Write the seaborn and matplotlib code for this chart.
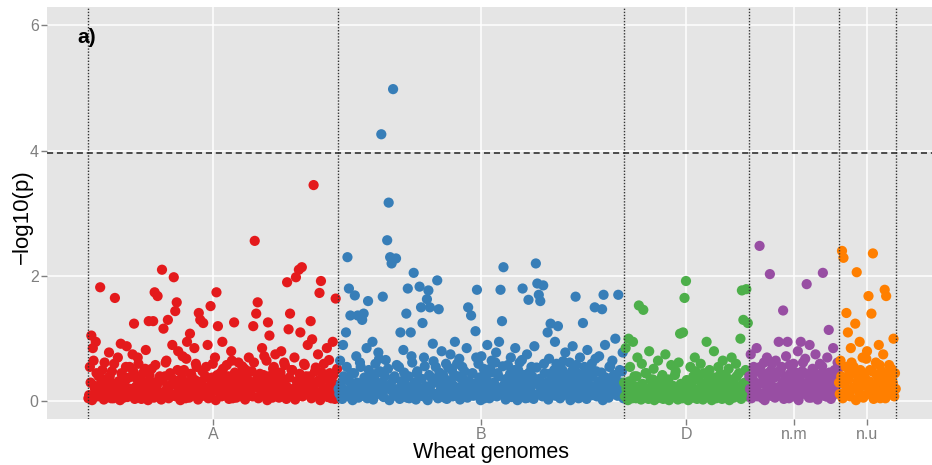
import matplotlib
matplotlib.use("Agg")
import matplotlib.pyplot as plt
import seaborn as sns
import pandas as pd

genomes = ["A", "B", "D", "n.m", "n.u"]
colors = ["#E41A1C", "#377EB8", "#4DAF4A", "#984EA3", "#FF7F00"]

# -log10(p) of markers in map order; two interleaved marker sets per genome
logp_A = [
    0.05, 0.55, 1.05, 0.85, 0.25, 0.95, 0.12, 0.40, 1.82, 0.30,
    0.18, 0.62, 0.08, 0.35, 0.78, 0.22, 0.48, 0.05, 1.65, 0.28,
    0.70, 0.15, 0.92, 0.42, 0.06, 0.33, 0.88, 0.20, 0.55, 0.10,
    0.75, 1.24, 0.38, 0.14, 0.60, 0.27, 0.04, 0.45, 0.18, 0.82,
    0.30, 1.28, 0.09, 0.52, 1.28, 1.74, 0.22, 1.68, 0.36, 0.12,
    2.10, 1.16, 0.40, 0.65, 1.30, 0.25, 0.08, 0.90, 1.98, 1.44,
    1.58, 0.80, 0.34, 0.15, 0.72, 0.50, 0.05, 0.95, 0.28, 1.08,
    0.42, 0.18, 0.85, 0.60, 0.10, 1.41, 1.30, 0.32, 1.25, 0.20,
    0.55, 0.90, 0.07, 1.52, 0.38, 0.26, 0.70, 1.74, 1.20, 0.15,
    0.46, 0.95, 0.30, 0.12, 0.58, 0.40, 0.22, 0.80, 0.05, 1.26,
    0.35, 0.18, 0.62, 0.44, 0.08, 0.28, 0.52, 0.15, 0.36, 0.70,
    0.24, 0.48, 1.20, 2.56, 1.40, 1.58, 0.30, 0.10, 0.85, 0.42,
    0.20, 0.65, 1.26, 1.05, 0.38, 0.06, 0.55, 0.75, 0.28, 0.45,
    0.16, 0.80, 0.35, 0.62, 0.25, 1.90, 1.15, 1.40, 0.50, 0.08,
    0.70, 1.98, 0.32, 2.10, 1.10, 2.14, 0.22, 0.58, 0.40, 0.90,
    0.15, 1.28, 0.99, 3.45, 0.48, 0.30, 0.75, 1.73, 1.92, 0.12,
    0.60, 0.36, 0.85, 0.20, 0.45, 0.05, 0.95, 0.28, 1.64, 0.52,
]
logp_A_2 = [
    0.10, 0.30, 0.02, 0.65, 0.20, 0.45, 0.08, 0.25, 0.15, 0.50,
    0.03, 0.35, 0.22, 0.12, 0.40, 0.05, 0.28, 0.60, 0.18, 0.09,
    0.32, 0.02, 0.45, 0.14, 0.26, 0.55, 0.07, 0.38, 0.20, 0.11,
    0.48, 0.04, 0.24, 0.70, 0.16, 0.36, 0.08, 0.28, 0.52, 0.13,
    0.02, 0.42, 0.19, 0.30, 0.06, 0.58, 0.25, 0.10, 0.40, 0.03,
    0.33, 0.15, 0.62, 0.22, 0.05, 0.45, 0.12, 0.35, 0.27, 0.08,
    0.50, 0.18, 0.02, 0.38, 0.24, 0.14, 0.68, 0.30, 0.06, 0.44,
    0.20, 0.10, 0.34, 0.55, 0.03, 0.26, 0.16, 0.48, 0.09, 0.40,
    0.22, 0.05, 0.36, 0.14, 0.60, 0.28, 0.02, 0.42, 0.18, 0.32,
    0.08, 0.52, 0.24, 0.12, 0.38, 0.04, 0.30, 0.65, 0.15, 0.46,
    0.06, 0.25, 0.40, 0.10, 0.56, 0.20, 0.03, 0.34, 0.48, 0.14,
    0.28, 0.08, 0.62, 0.22, 0.36, 0.05, 0.44, 0.16, 0.30, 0.72,
    0.12, 0.02, 0.40, 0.26, 0.18, 0.52, 0.09, 0.35, 0.24, 0.06,
    0.46, 0.14, 0.30, 0.58, 0.04, 0.22, 0.38, 0.10, 0.50, 0.20,
    0.03, 0.32, 0.16, 0.44, 0.26, 0.08, 0.60, 0.36, 0.12, 0.24,
    0.40, 0.05, 0.28, 0.18, 0.54, 0.10, 0.34, 0.02, 0.46, 0.22,
    0.14, 0.38, 0.07, 0.66, 0.30, 0.18, 0.42, 0.04, 0.26, 0.12,
]
logp_B = [
    0.20, 0.65, 0.05, 0.90, 0.35, 1.10, 2.30, 1.80, 1.37, 0.45,
    0.15, 1.69, 0.72, 1.37, 0.28, 0.55, 1.30, 1.40, 0.08, 0.85,
    1.60, 0.38, 0.22, 0.95, 0.12, 0.60, 0.30, 0.78, 0.48, 4.26,
    1.67, 0.18, 0.66, 2.57, 3.17, 2.30, 2.20, 4.98, 0.40, 2.28,
    0.10, 0.55, 1.10, 0.25, 0.82, 0.35, 1.40, 1.80, 0.05, 1.10,
    0.62, 2.05, 0.30, 0.45, 0.15, 1.83, 1.50, 1.25, 0.70, 0.20,
    1.63, 1.77, 1.50, 0.38, 0.92, 0.12, 0.55, 1.93, 1.47, 0.28,
    0.80, 0.42, 0.06, 0.60, 0.33, 0.18, 0.75, 0.50, 0.25, 0.95,
    0.10, 0.40, 0.68, 0.22, 0.55, 0.35, 0.08, 0.85, 1.50, 0.30,
    1.37, 0.45, 0.15, 1.12, 1.78, 0.60, 0.26, 0.72, 0.40, 0.05,
    0.32, 0.90, 0.18, 0.52, 0.65, 0.28, 0.10, 0.78, 0.45, 0.95,
    1.78, 1.28, 2.14, 0.35, 0.20, 0.58, 0.08, 0.70, 0.40, 0.25,
    0.85, 0.15, 0.50, 0.62, 0.30, 1.80, 0.42, 0.05, 0.75, 1.62,
    0.22, 0.55, 0.35, 0.88, 2.20, 1.88, 1.70, 1.60, 0.12, 1.85,
    0.45, 0.28, 1.10, 0.68, 1.24, 0.18, 0.40, 0.95, 0.60, 1.20,
    0.32, 0.08, 0.50, 0.25, 0.78, 0.40, 0.15, 0.62, 0.35, 0.88,
    0.20, 1.67, 0.45, 0.05, 0.70, 0.30, 1.25, 0.55, 0.12, 0.82,
    0.38, 0.22, 0.60, 0.10, 1.50, 0.48, 0.28, 0.72, 0.18, 1.47,
    1.70, 0.90, 0.35, 0.08, 0.55, 0.25, 0.65, 0.42, 1.00, 0.15,
    1.70, 0.50, 0.30, 0.78,
]
logp_B_2 = [
    0.12, 0.28, 0.04, 0.40, 0.18, 0.55, 0.08, 0.32, 0.22, 0.02,
    0.45, 0.15, 0.30, 0.06, 0.62, 0.20, 0.10, 0.38, 0.26, 0.05,
    0.50, 0.14, 0.34, 0.03, 0.24, 0.44, 0.12, 0.68, 0.18, 0.30,
    0.07, 0.40, 0.22, 0.52, 0.02, 0.28, 0.16, 0.36, 0.09, 0.58,
    0.20, 0.04, 0.32, 0.14, 0.46, 0.26, 0.06, 0.40, 0.18, 0.72,
    0.10, 0.30, 0.03, 0.48, 0.22, 0.14, 0.36, 0.08, 0.56, 0.24,
    0.02, 0.42, 0.16, 0.28, 0.64, 0.10, 0.34, 0.05, 0.46, 0.20,
    0.12, 0.38, 0.26, 0.04, 0.54, 0.18, 0.30, 0.08, 0.42, 0.15,
    0.60, 0.22, 0.03, 0.36, 0.12, 0.48, 0.25, 0.06, 0.32, 0.18,
    0.44, 0.09, 0.28, 0.70, 0.14, 0.38, 0.02, 0.24, 0.52, 0.10,
    0.34, 0.20, 0.05, 0.46, 0.16, 0.30, 0.62, 0.08, 0.40, 0.22,
    0.12, 0.56, 0.26, 0.03, 0.36, 0.18, 0.44, 0.07, 0.28, 0.50,
    0.14, 0.02, 0.38, 0.24, 0.66, 0.10, 0.32, 0.20, 0.06, 0.46,
    0.16, 0.40, 0.04, 0.28, 0.54, 0.12, 0.36, 0.22, 0.08, 0.60,
    0.18, 0.30, 0.03, 0.44, 0.14, 0.26, 0.50, 0.09, 0.38, 0.20,
    0.05, 0.34, 0.64, 0.16, 0.42, 0.10, 0.28, 0.02, 0.48, 0.24,
    0.12, 0.58, 0.30, 0.06, 0.36, 0.20, 0.44, 0.14, 0.04, 0.52,
    0.26, 0.10, 0.40, 0.18, 0.68, 0.08, 0.32, 0.22, 0.46, 0.02,
    0.15, 0.38, 0.28, 0.06, 0.56, 0.12, 0.34, 0.20, 0.42, 0.09,
    0.30, 0.16, 0.48, 0.05,
]
logp_D = [
    0.30, 0.85, 0.10, 1.00, 0.55, 0.20, 0.95, 0.40, 0.05, 0.70,
    1.53, 0.25, 0.60, 1.46, 0.15, 0.45, 0.08, 0.80, 0.35, 0.12,
    0.52, 0.22, 0.05, 0.65, 0.30, 0.10, 0.42, 0.18, 0.75, 0.06,
    0.35, 0.15, 0.58, 0.25, 0.08, 0.48, 0.20, 0.62, 1.08, 0.12,
    1.10, 1.65, 1.92, 0.30, 0.05, 0.55, 0.22, 0.40, 0.70, 0.15,
    0.35, 0.08, 0.60, 0.28, 0.45, 0.12, 0.95, 0.25, 0.50, 0.18,
    0.05, 0.80, 0.38, 0.22, 0.55, 0.10, 0.30, 0.65, 0.15, 0.42,
    0.08, 0.52, 0.25, 0.70, 0.35, 0.12, 0.60, 0.20, 0.45, 1.00,
    1.77, 1.30, 0.30, 1.79, 1.25,
]
logp_D_2 = [
    0.08, 0.20, 0.02, 0.32, 0.12, 0.05, 0.25, 0.15, 0.40, 0.06,
    0.18, 0.03, 0.28, 0.10, 0.45, 0.14, 0.04, 0.22, 0.08, 0.35,
    0.02, 0.16, 0.26, 0.06, 0.12, 0.38, 0.04, 0.20, 0.10, 0.30,
    0.02, 0.14, 0.24, 0.07, 0.42, 0.12, 0.03, 0.18, 0.28, 0.05,
    0.22, 0.09, 0.34, 0.02, 0.16, 0.26, 0.06, 0.12, 0.48, 0.04,
    0.20, 0.10, 0.30, 0.03, 0.14, 0.24, 0.07, 0.38, 0.12, 0.02,
    0.18, 0.28, 0.05, 0.22, 0.10, 0.44, 0.04, 0.16, 0.30, 0.08,
    0.20, 0.02, 0.34, 0.12, 0.06, 0.26, 0.40, 0.10, 0.18, 0.04,
    0.28, 0.14, 0.50, 0.08, 0.22,
]
logp_nm = [
    0.40, 0.75, 0.10, 0.55, 0.25, 0.85, 0.15, 2.48, 0.45, 0.05,
    0.62, 0.30, 0.70, 0.18, 2.03, 0.50, 0.08, 0.38, 0.65, 0.22,
    0.95, 0.12, 0.55, 1.45, 0.30, 0.72, 0.95, 0.05, 0.45, 0.20,
    0.60, 0.35, 0.10, 0.80, 0.25, 0.95, 0.48, 0.15, 0.68, 1.87,
    0.30, 0.90, 0.06, 0.52, 0.22, 0.75, 0.40, 0.12, 0.60, 0.28,
    2.05, 0.45, 0.08, 0.70, 1.14, 0.35, 0.18, 0.85, 0.50, 0.25,
    0.62,
]
logp_nm_2 = [
    0.20, 0.05, 0.35, 0.15, 0.48, 0.08, 0.28, 0.55, 0.12, 0.38,
    0.02, 0.25, 0.45, 0.10, 0.32, 0.60, 0.18, 0.06, 0.42, 0.22,
    0.14, 0.52, 0.30, 0.04, 0.40, 0.20, 0.10, 0.58, 0.26, 0.36,
    0.08, 0.46, 0.16, 0.02, 0.34, 0.24, 0.62, 0.12, 0.44, 0.28,
    0.06, 0.38, 0.18, 0.50, 0.10, 0.30, 0.03, 0.42, 0.22, 0.56,
    0.14, 0.34, 0.08, 0.26, 0.46, 0.04, 0.20, 0.40, 0.12, 0.30,
    0.52,
]
logp_nu = [
    0.30, 0.65, 2.40, 2.29, 0.15, 1.41, 1.10, 0.45, 0.85, 0.20,
    0.55, 1.24, 2.06, 0.35, 0.95, 0.10, 0.70, 0.42, 0.25, 0.80,
    1.68, 0.50, 1.40, 2.36, 0.18, 0.62, 0.30, 0.90, 0.05, 0.48,
    0.75, 1.78, 1.68, 0.22, 0.58, 0.38, 0.12, 1.00, 0.45,
]
logp_nu_2 = [
    0.12, 0.40, 0.05, 0.28, 0.55, 0.18, 0.35, 0.08, 0.62, 0.22,
    0.45, 0.02, 0.30, 0.15, 0.50, 0.25, 0.06, 0.38, 0.68, 0.12,
    0.32, 0.20, 0.48, 0.04, 0.26, 0.42, 0.10, 0.58, 0.16, 0.36,
    0.22, 0.05, 0.44, 0.28, 0.14, 0.52, 0.30, 0.08, 0.20,
]
threshold = 3.96
y_ticks = [0, 2, 4, 6]

series = [(logp_A, logp_A_2), (logp_B, logp_B_2), (logp_D, logp_D_2),
          (logp_nm, logp_nm_2), (logp_nu, logp_nu_2)]
rows = []
starts = []
offset = 0
for g, (vals1, vals2) in zip(genomes, series):
    starts.append(offset)
    for i, v in enumerate(vals2):
        rows.append({"pos": offset + i + 0.75, "logp": v, "genome": g})
    for i, v in enumerate(vals1):
        rows.append({"pos": offset + i + 0.25, "logp": v, "genome": g})
    offset += len(vals1)
ends = starts[1:] + [offset]
df = pd.DataFrame(rows)
mids = [(s + e) / 2 for s, e in zip(starts, ends)]

sns.set_theme(style="darkgrid")
plt.rcParams["font.family"] = ["Liberation Sans", "DejaVu Sans"]

fig = plt.figure(figsize=(9.32, 4.65), dpi=100)
ax = fig.add_axes([0.0504, 0.0990, 0.9496, 0.886])
ax.set_facecolor("#E5E5E5")

sns.scatterplot(data=df, x="pos", y="logp", hue="genome", palette=colors,
                hue_order=genomes, s=54, linewidth=0, alpha=1, legend=False, ax=ax)

for b in [starts[0]] + ends:
    ax.axvline(b, color="#333333", linestyle=(0, (1, 1.2)), linewidth=1.0, zorder=3)
ax.axhline(threshold, color="#222222", linestyle=(0, (4, 2.5)), linewidth=1.1, zorder=3)

ax.set_xlim(-27.9, 573.4)
ax.set_ylim(-0.28, 6.29)
ax.set_xticks(mids)
ax.set_xticklabels(genomes)
ax.set_yticks(y_ticks)
ax.grid(True, color="white", linewidth=1.1)
ax.set_axisbelow(True)
for sp in ax.spines.values():
    sp.set_visible(False)
ax.tick_params(axis="both", colors="#7F7F7F", labelsize=11.5, length=4, width=1,
               direction="out", bottom=True, left=True)
ax.tick_params(axis="x", pad=1.5)
ax.tick_params(axis="y", pad=2)
ax.set_xlabel("Wheat genomes", fontsize=15.5, color="black")
ax.set_ylabel("\u2212log10(p)", fontsize=16, color="black")
ax.xaxis.set_label_coords(0.502, -0.056)
ax.yaxis.set_label_coords(-0.016, 0.49)
ax.text(-7, 5.72, "a)", fontsize=15, fontweight="bold", color="black")

fig.savefig("out.png", dpi=100)
